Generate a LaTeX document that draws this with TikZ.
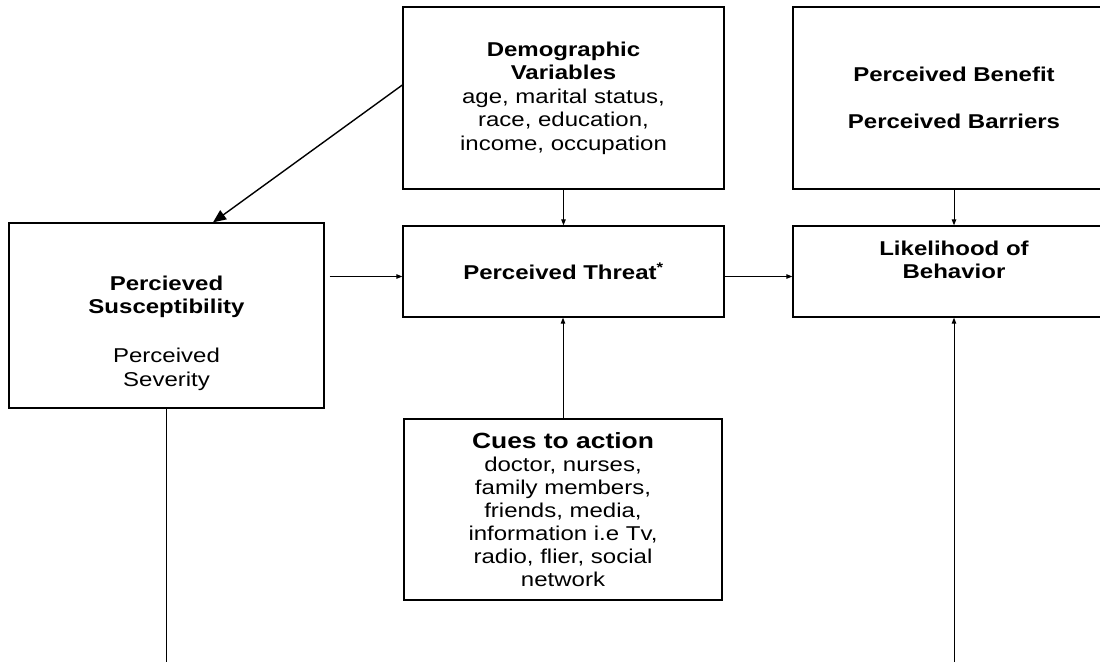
\documentclass[tikz,border=0pt]{standalone}
\usepackage{fontspec}
\setmainfont[FakeStretch=1.2]{Liberation Sans}
\usetikzlibrary{arrows.meta}

\begin{document}
\begin{tikzpicture}[x=1pt,y=-1pt,>={Triangle[length=6pt,width=4.5pt]},
    box/.style={draw,line width=1.3pt,align=center,inner sep=0pt,
        font=\fontsize{20}{23.5}\selectfont},
    link/.style={line width=1pt}]
    \useasboundingbox (0,0) rectangle (1100,662);
    % the boxes
    \node[box,minimum width=321pt,minimum height=182pt] (demo) at (563.5,98)
        {\textbf{Demographic}\\\textbf{Variables}\\age, marital status,\\race, education,\\income, occupation};
    \node[box,minimum width=322pt,minimum height=182pt] (benef) at (954,98)
        {\textbf{Perceived Benefit}\\~\\\textbf{Perceived Barriers}};
    \node[box,minimum width=315pt,minimum height=185pt] (sus) at (166.5,315.5)
        {~\\[26pt]\textbf{Percieved}\\\textbf{Susceptibility}\\[2pt]~\\Perceived\\Severity};
    \node[box,minimum width=321pt,minimum height=91pt] (threat) at (563.5,271.5)
        {\textbf{Perceived Threat}\textsuperscript{\textbf{*}}};
    \node[box,minimum width=322pt,minimum height=91pt] (likely) at (954,271.5)
        {\textbf{Likelihood of}\\\textbf{Behavior}\\~};
    \node[box,minimum width=318pt,minimum height=181pt,
        font=\fontsize{20}{23}\selectfont] (cues) at (563,509.5)
        {{\fontsize{22}{23}\selectfont\textbf{Cues to action}}\\doctor, nurses,\\family members,\\friends, media,\\information i.e Tv,\\radio, flier, social\\network};
    % the connectors
    \coordinate (tw) at ([yshift=-5pt]threat.west);
    \coordinate (te) at ([yshift=-5pt]threat.east);
    \coordinate (bl) at (sus.south |- 0,662);
    \coordinate (br) at (likely.south |- 0,662);
    \draw[line width=1.4pt,-{Triangle[length=13pt,width=11pt]}]
        ([yshift=13pt]demo.west) -- ([xshift=46.5pt]sus.north);
    \draw[link,->] (demo) -- (threat);
    \draw[link,->] (benef) -- (likely);
    \draw[link,->,shorten <=5pt] (sus.east |- tw) -- (tw);
    \draw[link,->] (te) -- (likely.west |- te);
    \draw[link,->] (cues.north) -- (cues.north |- threat.south);
    \draw[link] (sus.south) -- (bl);
    \draw[link,->] (br) -- (likely.south);
\end{tikzpicture}
\end{document}
